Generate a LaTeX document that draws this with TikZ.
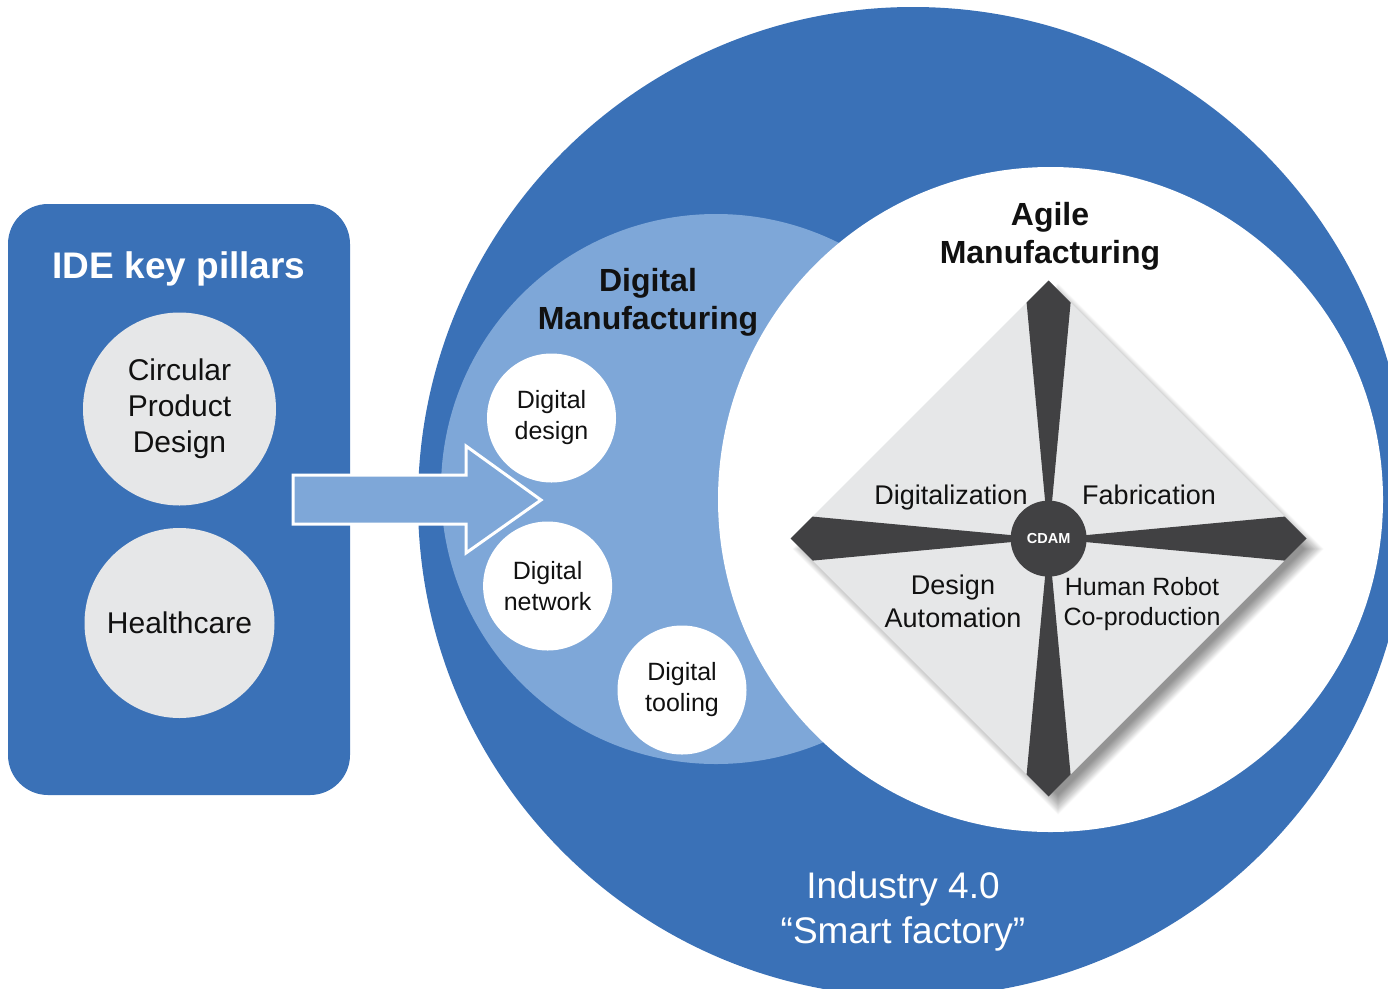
\documentclass[tikz,border=0pt]{standalone}
\usepackage{fontspec}
\setmainfont{Liberation Sans}
\definecolor{dblue}{HTML}{3A71B7}
\definecolor{lblue}{HTML}{7EA7D8}
\definecolor{lgray}{HTML}{E6E7E8}
\definecolor{dgray}{HTML}{414143}
\definecolor{txt}{HTML}{111111}
\newcommand{\fsz}[2]{\fontsize{#1}{#2}\selectfont}
\begin{document}
\begin{tikzpicture}[x=1pt,y=-1pt,
  pillar/.style={circle, fill=lgray, minimum size=193, inner sep=0, align=center, text=txt, font=\fsz{30}{36}},
  dmcirc/.style={circle, fill=white, minimum size=129, inner sep=0, align=center, text=txt, font=\fsz{25}{31}},
  quad/.style={align=center, inner sep=0, text=txt, font=\fsz{27}{33}},
  title/.style={align=center, inner sep=0, text=txt, font=\bfseries\fsz{32}{38}},
  blade/.style={fill=dgray}
]
\useasboundingbox (0,0) rectangle (1388,988);
% Industry 4.0 circle
\begin{scope}
\clip (0,0) rectangle (1388,988);
\node[circle, fill=dblue, minimum size=990, inner sep=0] (ind) at (913,502) {};
\end{scope}
% Digital manufacturing circle
\node[circle, fill=lblue, minimum size=550, inner sep=0] (dm) at (716,489) {};
% Agile manufacturing circle
\node[circle, fill=white, minimum size=665, inner sep=0] (am) at (1050.5,499.5) {};

% left panel
\node[fill=dblue, rounded corners=40pt, minimum width=342, minimum height=591, inner sep=0] (pillars) at (179,499.5) {};
\node[inner sep=0, text=white, font=\bfseries\fsz{37}{44}] (pt) at (179,269) {IDE key pillars};
\node[pillar] (cpd) at (179.5,409) {Circular\\Product\\Design};
\node[pillar, minimum size=190] (hc) at (179.5,623) {Healthcare};

% block arrow
\coordinate (a0) at (293,475);
\fill[lblue, draw=white, line width=3pt, line join=miter]
  (a0) -- (466,475) -- (466,446) -- (541,500) -- (466,553) -- (466,524) -- (293,524) -- cycle;

% digital manufacturing
\node[title] (dmt) at (648,302) {Digital\\Manufacturing};
\node[dmcirc] (dd) at (551.5,418) {Digital\\design};
\node[dmcirc] (dn) at (547.6,586) {Digital\\network};
\node[dmcirc] (dt) at (682,690) {Digital\\tooling};

% agile manufacturing
\node[title] (amt) at (1050,236) {Agile\\Manufacturing};

% diamond shadow
\foreach \k in {0,...,15}{
  \pgfmathsetmacro{\h}{246+1.3*\k}
  \fill[black, opacity=0.032, shift={(1058,549)}] (0,-\h) -- (\h,0) -- (0,\h) -- (-\h,0) -- cycle;
}
\coordinate (c) at (1048.6,538.6);
\fill[lgray] (1048.6,280.6) -- (1306.6,538.6) -- (1048.6,796.6) -- (790.6,538.6) -- cycle;
\foreach \a in {0,90,180,270}{
  \fill[blade, rotate around={\a:(c)}] (c) -- ++(22,-236) -- ++(-22,-22) -- ++(-22,22) -- cycle;
}
\node[circle, fill=dgray, minimum size=76, inner sep=0, text=white, font=\bfseries\fsz{14.5}{17}] (cdam) at (c) {CDAM};

\node[quad] (dig) at (951,497.5) {Digitalization};
\node[quad] (fab) at (1149,495) {Fabrication};
\node[quad] (da) at (953,601) {Design\\Automation};
\node[quad, font=\fsz{25}{30}] (hr) at (1142,604) {Human Robot\\Co-production};

% Industry 4.0 label
\node[align=center, inner sep=0, text=white, font=\fsz{37}{45}] (indt) at (903,911) {Industry 4.0\\``Smart factory''};
\end{tikzpicture}
\end{document}
